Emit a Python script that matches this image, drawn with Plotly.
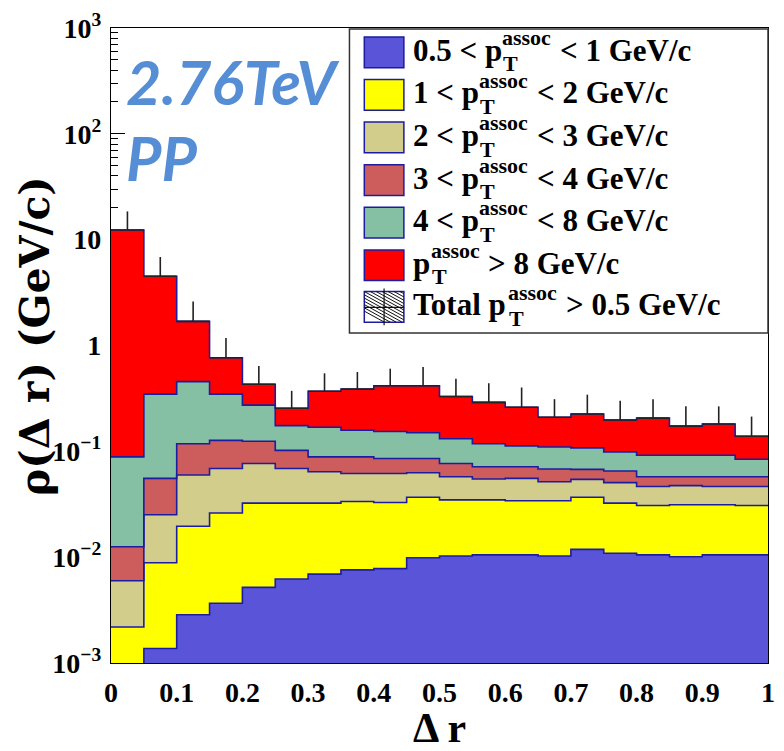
import numpy as np
import plotly.graph_objects as go

# ---------------- data ----------------
bin_edges = [0.00, 0.05, 0.10, 0.15, 0.20, 0.25, 0.30, 0.35, 0.40, 0.45, 0.50,
             0.55, 0.60, 0.65, 0.70, 0.75, 0.80, 0.85, 0.90, 0.95, 1.00]

pt_05_1 = [0.0008, 0.00137, 0.00286, 0.00367, 0.00518, 0.00621, 0.00692, 0.00759, 0.0078, 0.00989,
           0.01026, 0.0105, 0.0105, 0.01026, 0.01186, 0.0109, 0.0105, 0.0101, 0.0105, 0.0105]
pt_1_2 = [0.00139, 0.0075, 0.01674, 0.02243, 0.02722, 0.02619, 0.02548, 0.02601, 0.0251, 0.02691,
          0.02454, 0.0243, 0.0236, 0.02384, 0.02494, 0.0215, 0.0203, 0.0212, 0.0208, 0.0203]
pt_2_3 = [0.00379, 0.01633, 0.0401, 0.0428, 0.0443, 0.0365, 0.0317, 0.0282, 0.0289, 0.026,
          0.0227, 0.02, 0.0214, 0.0175, 0.0175, 0.0182, 0.0157, 0.0161, 0.0152, 0.0157]
pt_3_4 = [0.00655, 0.0303, 0.0583, 0.0581, 0.0478, 0.0331, 0.0246, 0.0269, 0.0237, 0.0227,
          0.0192, 0.0166, 0.0159, 0.0164, 0.0132, 0.0146, 0.011, 0.0101, 0.011, 0.011]
pt_4_8 = [0.0762, 0.2915, 0.338, 0.22, 0.1485, 0.073, 0.0803, 0.0693, 0.0685, 0.0645,
          0.0548, 0.0466, 0.0411, 0.042, 0.0402, 0.0334, 0.0343, 0.0343, 0.0343, 0.0268]
pt_gt8 = [12.27, 4.163, 1.234, 0.419, 0.158, 0.080, 0.201, 0.229, 0.262, 0.266,
          0.1985, 0.172, 0.1485, 0.100, 0.1173, 0.0994, 0.1142, 0.0812, 0.0897, 0.0547]
total_err_up = [6.14, 2.35, 0.91, 0.414, 0.209, 0.118, 0.176, 0.175, 0.188, 0.211,
                0.156, 0.150, 0.140, 0.101, 0.118, 0.103, 0.105, 0.093, 0.0845, 0.074]

x_tick_vals = [0, 0.1, 0.2, 0.3, 0.4, 0.5, 0.6, 0.7, 0.8, 0.9, 1]
x_tick_text = ["0", "0.1", "0.2", "0.3", "0.4", "0.5", "0.6", "0.7", "0.8", "0.9", "1"]
y_tick_vals = [1e-3, 1e-2, 1e-1, 1, 10, 100, 1000]
y_tick_text = ["10<sup>\u22123</sup>", "10<sup>\u22122</sup>", "10<sup>\u22121</sup>", "1", "10",
               "10<sup>2</sup>", "10<sup>3</sup>"]

legend_pre = ["0.5 < p", "1 < p", "2 < p", "3 < p", "4 < p", "p", "Total p"]
legend_suf = ["< 1 GeV/c", "< 2 GeV/c", "< 3 GeV/c", "< 4 GeV/c", "< 8 GeV/c", "> 8 GeV/c", "> 0.5 GeV/c"]
series = [pt_05_1, pt_1_2, pt_2_3, pt_3_4, pt_4_8, pt_gt8]
colors = ["#5954d8", "#ffff00", "#d3cd8b", "#cd5c5c", "#85c0a5", "#ff0000"]

# ---------------- figure ----------------
W, H = 784, 751
L, R, T, B = 111, 775, 22, 663
NAVY = "#1c1ca0"
SERIF = "Liberation Serif"

edges = np.array(bin_edges)
centers = 0.5 * (edges[:-1] + edges[1:])
widths = np.diff(edges)

fig = go.Figure()
for vals, col in zip(series, colors):
    fig.add_trace(go.Bar(x=centers, y=vals, width=widths, marker=dict(color=col, line=dict(width=0)),
                         showlegend=False, hoverinfo="skip"))

cum = np.cumsum(np.array(series), axis=0)
for row in cum:
    fig.add_trace(go.Scatter(x=edges, y=np.append(row, row[-1]), mode="lines",
                             line=dict(shape="hv", color=NAVY, width=1.6),
                             showlegend=False, hoverinfo="skip"))

total = cum[-1]
fig.add_trace(go.Scatter(
    x=centers, y=total, mode="markers", marker=dict(size=1, color="rgba(0,0,0,0)"),
    error_x=dict(type="data", array=widths / 2, width=0, color="#222", thickness=1.6),
    error_y=dict(type="data", array=total_err_up, arrayminus=[0] * len(total), symmetric=False,
                 width=0, color="#222", thickness=1.6),
    showlegend=False, hoverinfo="skip"))


def px(x):
    return (x - L) / (R - L)


def py(y):
    return (B - y) / (B - T)


def txt(x, y, s, size, xanchor="left", family=SERIF, color="black", angle=0):
    return dict(x=px(x), y=py(y), xref="paper", yref="paper", text=s, showarrow=False,
                xanchor=xanchor, yanchor="middle", textangle=angle, borderpad=0,
                font=dict(family=family, size=size, color=color))


# Times-Bold advance widths (1/1000 em) used to lay out legend pieces
TB = {" ": 250, ".": 250, "<": 570, ">": 570, "p": 556, "T": 667, "o": 500, "t": 333, "a": 500,
      "l": 278, "s": 389, "c": 444, "G": 778, "e": 444, "V": 722, "/": 278}


def tw(s, size):
    return sum(TB.get(ch, 500) for ch in s) * size / 1000.0


annotations = []
shapes = []

# axis titles
annotations.append(txt(34, 333, "<b>\u03c1(\u0394 r) (GeV/c)</b>", 41, xanchor="center",
                       family="DejaVu Serif", angle=-90))
annotations.append(txt(443, 729, "<b>\u0394 r</b>", 42, xanchor="center"))

# energy / system label
BLUE_TXT = "#558ed5"
annotations.append(txt(125, 76, "<b><i>2.76TeV</i></b>", 61, family="Lato", color=BLUE_TXT))
annotations.append(txt(125, 153, "<b><i>PP</i></b>", 61, family="Lato", color=BLUE_TXT))

# legend (drawn manually to stack sub/superscripts like the original)
shapes.append(dict(type="rect", xref="paper", yref="paper", x0=px(352), x1=px(775), y0=py(330), y1=py(23),
                   line=dict(color="#333", width=1.5), fillcolor="white", layer="above"))
baselines = [57, 100, 143, 186, 229, 272, 314]
FS, FSS = 31, 22
for i in range(7):
    b = baselines[i]
    x0, x1, y0, y1 = 367, 407, b - 26, b + 5
    if i < 6:
        shapes.append(dict(type="rect", xref="paper", yref="paper", x0=px(x0), x1=px(x1), y0=py(y1),
                           y1=py(y0), fillcolor=colors[i], line=dict(color=NAVY, width=1.5), layer="above"))
    else:
        shapes.append(dict(type="rect", xref="paper", yref="paper", x0=px(x0), x1=px(x1), y0=py(y1),
                           y1=py(y0), fillcolor="white", line=dict(color=NAVY, width=1.5), layer="above"))
        for k in range(-6, 8):
            # diagonal hatch lines "\" clipped to the box
            sx0 = x0 + k * 6
            pts = []
            for t in np.linspace(0, 1, 400):
                xx = sx0 + t * 60
                yy = y0 + t * 60 * 0.55
                if x0 <= xx <= x1 and y0 <= yy <= y1:
                    pts.append((xx, yy))
            if len(pts) > 1:
                shapes.append(dict(type="line", xref="paper", yref="paper", x0=px(pts[0][0]), y0=py(pts[0][1]),
                                   x1=px(pts[-1][0]), y1=py(pts[-1][1]), line=dict(color="#111", width=1),
                                   layer="above"))
        shapes.append(dict(type="line", xref="paper", yref="paper", x0=px(387), x1=px(387), y0=py(y1 + 3),
                           y1=py(y0 - 3), line=dict(color="#111", width=1.2), layer="above"))
        shapes.append(dict(type="line", xref="paper", yref="paper", x0=px(x0), x1=px(x1), y0=py(b - 10),
                           y1=py(b - 10), line=dict(color="#111", width=1.2), layer="above"))
    xs = 415
    annotations.append(txt(xs, b - 0.4 * FS, "<b>" + legend_pre[i] + "</b>", FS))
    xsup = xs + tw(legend_pre[i], FS) + 1
    annotations.append(txt(xsup, b - 16.5 - 0.4 * FSS, "<b>assoc</b>", FSS))
    annotations.append(txt(xsup + 1, b + 10 - 0.4 * FSS, "<b>T</b>", FSS))
    xsuf = xsup + tw("assoc", FSS) + 0.3 * FS
    annotations.append(txt(xsuf, b - 0.4 * FS, "<b>" + legend_suf[i] + "</b>", FS))

fig.update_layout(
    width=W, height=H, margin=dict(l=L, r=W - R, t=T, b=H - B),
    paper_bgcolor="white", plot_bgcolor="white",
    barmode="stack", bargap=0, showlegend=False,
    annotations=annotations, shapes=shapes,
    xaxis=dict(range=[0, 1], tickmode="array", tickvals=x_tick_vals, ticktext=x_tick_text,
               tickfont=dict(family=SERIF, size=28, color="black", weight="bold"),
               showline=True, mirror=True, linecolor="black", linewidth=1.2,
               ticks="inside", ticklen=14, tickcolor="black", layer="below traces",
               showgrid=False, zeroline=False, ticklabelstandoff=4),
    yaxis=dict(type="log", range=[-3, 3], tickmode="array", tickvals=y_tick_vals, ticktext=y_tick_text,
               tickfont=dict(family=SERIF, size=28, color="black", weight="bold"),
               showline=True, mirror=True, linecolor="black", linewidth=1.2,
               ticks="inside", ticklen=14, tickcolor="black", layer="below traces",
               minor=dict(ticks="inside", ticklen=7, dtick="D1", tickcolor="black", showgrid=False),
               showgrid=False, zeroline=False, ticklabelstandoff=3),
)

fig.write_html("out.html")
